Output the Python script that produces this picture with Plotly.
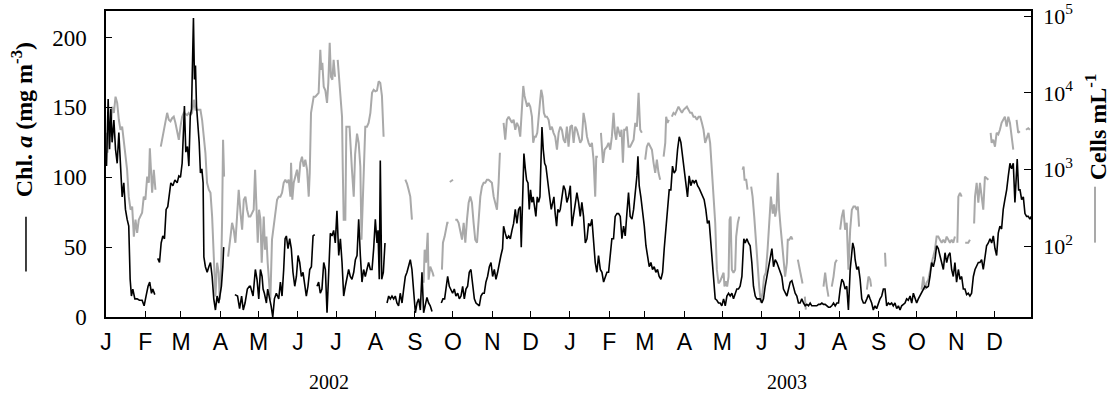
import pandas as pd
import plotly.graph_objects as go

# ---------------- data ----------------
# day offset from 1 Jan 2002, Chl a (mg m-3); None = gap in record
chl_day = [
 0.4,1.7,2.8,3.8,4.8,6.2,7.5,8.8,10.1,11.4,12.7,14.0,15.3,16.6,17.9,19.0,20.0,21.1,22.7,24.5,26.3,28.4,30.0,31.5,33.1,34.4,35.8,36.8,38.4,
 39.5,
 40.7,42.1,43.4,44.7,46.0,47.3,48.6,50.0,51.0,52.6,54.2,56.0,57.3,58.6,59.9,61.0,61.7,62.8,64.1,65.2,66.3,67.3,68.0,68.8,69.6,70.4,71.2,72.2,
 73.3,74.3,75.4,76.4,77.0,78.2,79.6,80.9,82.2,83.5,84.8,86.1,87.4,88.7,90.1,90.8,91.9,92.6,
 96.0,
 101.4,103.5,105.1,106.7,108.0,109.4,111.2,112.8,
 113.6,115.7,117.5,118.8,120.2,121.5,122.8,123.6,124.6,126.2,127.2,128.5,129.9,131.2,132.5,134.0,135.9,137.2,138.5,139.8,140.9,141.9,
 143.2,144.5,145.8,147.1,148.5,149.8,151.1,152.4,153.7,155.0,156.3,157.6,158.9,160.3,161.6,162.9,164.2,
 165.1,
 166.0,167.3,168.6,169.9,171.3,172.6,173.9,175.2,176.5,177.8,179.1,180.4,181.7,183.1,184.4,185.7,187.0,188.3,189.6,190.9,192.2,193.5,
 194.9,196.2,197.5,198.8,200.1,201.4,202.7,204.0,205.3,206.6,208.0,209.3,210.6,211.9,213.2,214.0,215.0,215.8,216.9,218.2,219.5,
 220.3,
 221.1,222.4,223.7,225.0,226.3,227.6,228.9,230.2,231.5,232.9,234.2,
 235.5,236.8,238.1,239.4,240.7,242.1,243.4,244.7,246.0,247.3,248.6,249.9,251.2,252.5,253.8,255.1,256.5,
 260.0,
 263.8,265.1,266.4,267.5,268.8,270.1,271.4,272.7,274.0,275.3,276.7,278.0,279.3,280.6,281.9,283.2,284.5,285.8,287.1,288.4,289.8,291.1,
 292.4,293.7,295.0,296.3,297.6,298.9,300.2,301.6,302.9,304.2,305.5,306.8,308.1,309.4,310.7,312.0,312.8,314.1,315.4,316.8,318.1,319.4,
 320.7,322.0,323.3,324.6,325.9,326.7,327.8,328.8,329.9,330.9,332.0,333.0,334.0,335.1,336.1,337.2,338.2,339.3,340.3,341.4,342.2,343.0,
 344.0,345.1,346.1,347.2,348.2,349.3,350.3,351.4,352.4,353.4,354.5,355.5,356.6,
 357.4,358.7,360.0,361.3,362.6,363.9,365.3,366.6,367.9,369.2,370.5,371.8,373.1,374.4,375.7,377.1,378.4,379.7,381.0,382.3,383.6,384.9,
 386.2,387.5,388.9,390.2,391.5,392.8,394.1,395.4,396.7,398.0,399.3,400.6,402.0,403.3,404.6,405.9,407.2,408.5,409.8,411.1,412.4,413.8,
 415.1,416.4,417.7,418.5,419.5,420.8,422.1,423.5,424.8,426.1,427.4,428.7,430.0,431.3,432.6,433.9,435.2,436.6,437.9,439.2,440.5,441.8,
 443.1,444.4,445.7,447.0,448.3,449.7,451.0,452.3,453.6,454.9,456.2,457.5,458.8,460.1,461.5,462.8,464.1,465.4,466.7,468.0,469.3,470.6,
 471.9,473.2,474.5,475.9,477.2,478.5,
 479.3,480.6,481.9,483.2,484.5,485.9,487.2,488.5,489.8,491.1,492.4,493.7,495.0,496.3,497.6,498.9,500.3,501.1,501.8,502.9,504.2,505.5,
 506.8,508.1,509.4,510.8,512.1,513.4,514.7,516.0,517.3,518.6,519.9,521.2,522.5,523.9,525.2,526.5,527.8,529.1,530.4,531.7,533.0,534.3,
 535.7,537.0,538.3,539.6,540.9,542.2,543.5,544.8,546.1,547.4,548.8,550.1,551.4,552.7,554.0,555.3,556.6,557.9,559.2,560.6,561.9,563.2,
 564.5,565.8,567.1,568.4,569.7,571.0,572.4,573.7,575.0,576.3,577.6,578.9,580.2,581.5,582.8,584.1,585.5,586.8,587.5,588.6,589.4,590.7,
 592.0,593.3,594.6,595.9,597.2,598.6,599.9,
 601.1,602.4,603.7,605.0,606.3,607.7,609.0,610.3,611.6,612.9,614.2,615.5,616.8,618.1,619.4,620.7,622.1,623.4,624.7,626.0,627.3,628.6,
 629.9,631.2,632.6,633.9,635.2,636.5,637.8,639.1,640.4,641.7,643.0,644.3,645.6,647.0,648.3,649.6,650.9,652.2,653.5,654.8,656.1,657.5,
 658.8,660.1,661.4,662.7,664.0,665.3,666.6,667.9,669.2,670.6,671.9,673.2,674.5,675.8,677.1,678.4,679.7,681.0,682.4,683.7,685.0,686.3,
 687.6,688.9,690.2,691.5,692.8,694.2,695.5,696.8,698.1,699.4,700.7,702.0,703.3,704.6,705.9,707.2,708.6,709.9,711.2,712.5,713.8,715.1,
 715.9,716.9,718.0,719.1,720.4,721.7,723.0,724.3,725.6,726.9,728.0,
]
chl_val = [
 108,156,120,149,125,141,120,110,132,108,86,96,77,70,65,27,15,20,13,13,12,12,8,15,22,25,17,20,16,
 None,
 42,39,53,58,56,77,79,89,96,94,98,96,101,100,110,134,151,118,122,108,144,149,177,214,170,180,151,141,
 125,103,106,96,43,36,32,36,39,29,13,5,15,10,20,22,36,50,
 None,
 16,15,6,15,5,10,20,22,
 22,15,34,27,13,34,29,20,17,10,20,15,8,0,13,17,13,25,15,34,56,58,
 49,56,49,32,22,29,44,39,29,32,22,15,22,34,36,58,59,
 None,
 22,25,17,20,39,34,3,39,60,58,62,53,76,44,56,39,15,22,27,34,29,27,
 32,41,44,70,44,25,34,29,34,39,34,34,49,70,53,62,27,112,27,32,53,
 None,
 10,15,13,15,13,15,10,8,17,10,20,
 29,32,36,41,34,15,3,10,13,5,32,3,10,14,10,8,4,
 None,
 10,13,13,20,29,22,20,17,20,15,17,13,15,22,13,20,22,32,34,22,13,10,
 9,8,15,17,17,25,29,36,39,29,34,27,32,39,44,49,65,60,56,58,56,62,
 67,77,67,77,79,50,82,117,106,98,96,77,91,82,86,77,72,86,82,86,120,136,
 120,110,108,98,91,84,77,82,86,74,65,77,75,
 77,86,94,91,82,86,94,65,72,82,89,82,72,82,72,53,56,67,65,70,53,39,
 32,44,34,32,25,29,32,32,46,56,56,72,74,74,72,56,65,58,74,89,72,70,
 77,89,101,115,94,86,77,65,51,44,36,39,34,36,32,34,29,27,32,49,62,79,
 91,91,108,103,105,120,129,125,115,106,96,86,101,94,98,96,98,94,92,89,86,84,
 77,67,69,53,39,20,
 13,12,10,10,8,13,8,15,17,15,17,13,17,20,20,22,29,49,56,53,56,53,
 51,39,22,15,13,13,13,10,13,22,29,36,41,49,36,41,39,36,32,29,20,17,
 15,20,25,26,22,17,15,10,10,13,10,8,9,8,10,8,8,8,8,9,9,10,
 9,9,8,7,7,8,10,8,10,10,20,27,25,20,22,5,34,44,53,49,41,34,
 36,27,13,10,10,13,16,
 13,10,5,8,6,10,13,15,20,20,8,10,9,10,8,10,6,8,5,8,9,10,
 13,12,15,10,17,13,10,13,15,17,20,22,21,22,29,39,36,41,51,49,44,39,
 34,46,39,44,46,34,29,39,25,34,27,29,20,20,16,17,15,17,29,34,36,39,
 39,41,34,44,51,53,56,53,58,49,44,60,65,63,77,84,91,101,110,106,110,82,
 96,113,91,91,84,86,74,72,72,70,72,
]

# day offset from 1 Jan 2002, log10(cells mL-1); None = gap in record
cells_day = [
 0.4,1.2,2.2,3.5,4.8,6.2,7.5,8.8,10.1,11.4,12.7,14.0,15.3,16.6,17.9,19.3,20.6,21.9,23.2,24.5,25.8,27.1,28.4,29.7,31.0,32.4,33.7,34.5,
 35.5,36.3,37.6,38.9,
 41.0,
 43.1,44.2,45.5,46.8,48.1,49.4,50.7,52.0,53.3,54.6,55.9,57.3,58.6,59.9,61.2,62.5,63.8,65.1,66.4,67.7,69.1,70.4,71.7,73.0,74.3,75.6,
 76.9,78.2,79.5,80.9,82.2,83.5,84.8,86.1,87.4,88.7,89.5,90.5,91.3,92.1,92.9,
 94.5,
 96.1,97.9,99.2,100.5,101.8,103.1,104.4,105.8,107.1,108.4,109.7,111.0,112.3,
 113.6,114.9,116.2,117.3,118.3,119.4,120.4,121.5,122.5,123.3,124.1,125.1,126.2,127.2,128.3,129.3,130.6,131.9,133.3,134.6,135.9,137.2,
 138.5,139.8,141.1,142.4,143.7,145.1,145.6,146.6,147.7,149.0,150.3,151.6,152.9,154.2,155.5,156.8,158.2,159.5,160.3,161.3,162.4,163.4,
 164.7,166.0,167.3,168.6,169.4,170.2,171.3,172.6,173.9,174.9,176.0,177.0,178.1,179.1,180.2,
 181.3,
 182.3,183.3,184.4,185.7,186.3,187.0,188.3,189.1,190.1,191.6,193.5,194.9,196.0,197.5,198.8,200.1,201.0,202.7,204.0,205.3,206.6,208.0,
 209.3,210.6,211.9,213.2,214.5,215.8,217.1,218.4,
 227.0,
 235.5,236.8,238.1,239.4,240.7,
 245.0,
 249.9,250.7,251.8,253.1,253.8,255.1,257.0,257.8,
 261.0,
 264.3,265.1,266.4,267.5,268.5,269.5,
 270.0,
 270.5,273.0,
 274.0,
 274.8,276.1,277.4,278.7,280.1,281.4,282.7,284.0,285.3,286.6,287.9,289.2,290.5,291.9,293.2,294.5,295.8,297.1,298.4,299.7,301.0,302.3,
 303.6,305.0,306.3,307.6,308.9,309.9,
 311.3,
 312.8,314.1,315.4,316.8,318.1,319.4,320.7,322.0,323.3,324.6,325.9,327.2,328.3,329.3,330.4,331.4,332.5,333.8,335.1,336.1,337.2,338.2,
 339.3,340.3,341.4,342.4,343.5,344.5,345.6,346.9,348.2,349.5,350.8,352.1,353.4,354.8,356.1,
 357.4,358.7,360.0,361.3,362.6,363.9,365.3,366.6,367.9,369.2,370.5,371.8,373.1,374.4,375.7,377.1,378.4,379.7,381.0,382.3,383.6,384.9,
 385.7,387.0,
 388.2,
 389.4,391.0,392.3,394.1,395.4,396.7,398.0,399.3,400.4,401.4,402.5,403.5,404.6,405.6,406.7,407.7,408.8,409.8,411.1,412.4,413.8,415.1,
 416.4,417.7,419.0,420.3,421.6,
 423.0,
 424.2,425.5,426.8,428.2,429.5,430.8,432.1,433.4,434.7,436.0,
 437.3,
 438.7,440.0,440.7,441.8,442.8,
 444.0,
 445.2,446.5,447.8,449.1,450.4,451.7,453.1,454.4,455.7,457.0,458.3,459.6,460.9,462.2,463.5,464.9,466.2,467.5,468.8,470.1,471.4,472.7,
 474.0,475.3,476.7,478.0,
 479.3,480.6,481.9,483.2,484.5,485.9,486.6,487.6,488.7,489.8,490.6,491.4,492.4,493.7,495.0,495.8,497.1,498.2,
 499.5,
 500.8,501.6,502.4,503.7,504.7,
 506.0,
 507.6,508.7,510.0,511.3,512.6,513.9,515.2,516.5,517.8,519.1,520.5,521.8,523.1,524.6,525.6,526.5,527.5,528.6,529.6,530.7,531.7,533.0,
 534.3,535.7,536.4,537.5,539.1,540.1,
 542.0,
 544.3,545.4,546.9,548.0,
 549.0,
 549.8,550.6,
 557.0,
 564.5,565.8,567.1,568.4,
 569.8,
 571.0,572.4,573.7,575.0,
 576.3,
 577.6,578.9,580.2,581.5,582.8,584.1,585.5,586.8,588.1,589.4,590.7,591.5,592.5,
 595.0,
 598.6,599.9,601.2,602.0,
 607.0,
 612.9,613.4,
 625.0,
 641.7,643.0,644.3,645.6,647.0,648.3,649.6,650.9,652.2,653.5,654.8,656.1,657.5,658.8,660.1,661.4,662.7,664.0,665.3,666.6,667.9,
 668.9,
 669.8,670.6,671.9,673.2,
 674.6,
 676.0,678.4,679.7,
 681.5,
 683.0,683.7,685.0,686.3,687.6,688.9,690.2,691.5,692.8,694.2,
 695.1,
 696.0,696.8,698.1,699.4,700.7,702.0,703.3,704.6,705.9,707.2,708.6,709.9,711.2,712.5,713.8,
 715.1,
 716.4,717.7,719.0,
 721.4,
 723.8,725.6,726.9,
]
cells_log10 = [
 3.48,3.22,3.56,3.43,3.82,3.74,3.95,3.87,3.65,3.52,3.56,3.35,3.22,3.0,2.65,2.48,2.52,2.13,2.35,2.18,2.35,2.39,2.44,2.65,2.61,2.91,2.83,3.28,
 3.0,2.70,3.0,2.74,
 None,
 3.30,3.39,3.48,3.61,3.74,3.65,3.63,3.67,3.69,3.61,3.48,3.39,3.56,3.69,3.74,3.72,3.71,3.74,3.71,3.74,3.91,3.78,3.78,3.78,3.78,3.65,
 3.43,3.22,2.83,2.74,2.70,2.39,1.87,1.35,1.79,1.66,1.31,1.61,2.31,3.39,2.91,
 None,
 1.87,2.13,2.31,2.22,2.05,2.39,2.74,2.44,2.22,2.61,2.65,2.48,2.39,
 2.39,2.44,2.48,3.0,2.48,2.05,2.48,2.35,1.79,2.05,2.39,1.96,2.13,1.79,1.48,1.31,2.09,2.26,2.43,2.61,2.65,2.65,
 2.70,2.83,2.87,2.83,2.87,2.65,3.09,2.61,2.83,2.91,3.0,2.83,3.09,3.17,3.04,3.13,3.0,2.65,2.96,3.74,3.87,3.95,
 3.95,3.97,4.0,4.56,4.30,4.39,4.08,4.03,3.87,4.13,4.65,4.21,4.17,4.43,4.21,
 None,
 4.43,4.21,4.0,3.69,3.0,2.35,2.35,3.56,3.56,3.56,3.0,2.65,3.2,3.47,3.35,3.04,2.09,3.0,3.56,3.56,3.61,3.74,
 4.0,4.04,4.02,4.03,4.15,4.13,3.96,3.43,
 None,
 2.87,2.82,2.74,2.65,2.35,
 None,
 1.53,1.96,1.79,2.18,1.57,1.74,1.66,1.61,
 None,
 1.70,2.05,2.13,2.22,2.31,2.31,
 None,
 2.84,2.87,
 None,
 2.35,2.35,2.31,2.22,2.09,2.31,2.05,2.35,2.57,2.65,2.57,2.31,2.09,2.05,2.39,2.65,2.78,2.83,2.83,2.87,2.87,2.85,
 2.83,2.65,2.57,2.48,2.83,3.22,
 None,
 3.61,3.39,3.65,3.69,3.65,3.61,3.65,3.52,3.61,3.56,3.43,3.74,4.09,3.96,3.87,3.82,3.87,3.82,3.69,3.35,3.43,3.43,
 3.48,3.74,3.87,4.04,3.95,3.74,3.69,3.69,3.65,3.52,3.56,3.48,3.43,3.26,3.48,
 3.56,3.52,3.39,3.35,3.56,3.30,3.56,3.58,3.35,3.56,3.52,3.43,3.35,3.39,3.74,3.61,3.43,3.35,3.30,3.35,3.13,2.65,
 3.17,3.17,
 None,
 3.48,3.09,3.26,3.30,3.35,3.26,3.43,3.74,3.48,3.39,3.56,3.48,3.43,3.52,3.09,3.52,3.52,3.56,3.30,3.30,3.35,3.39,
 3.61,3.56,4.0,3.52,3.48,
 None,
 3.13,3.30,3.35,3.30,3.26,3.09,2.96,3.13,2.96,2.87,
 None,
 3.17,3.35,3.69,3.61,3.65,
 None,
 3.69,3.74,3.72,3.78,3.82,3.78,3.74,3.78,3.80,3.82,3.78,3.74,3.74,3.69,3.69,3.65,3.69,3.69,3.61,3.52,3.35,3.43,
 3.48,3.35,3.0,2.70,
 2.31,1.70,1.52,1.55,1.61,1.66,1.48,1.55,1.48,1.61,2.35,2.39,1.70,1.66,1.70,2.13,2.31,2.39,
 None,
 3.0,3.04,2.87,2.87,2.74,
 None,
 2.78,2.65,2.39,2.05,1.79,1.48,1.27,1.40,1.61,1.66,1.96,2.39,2.65,2.43,2.55,2.39,2.48,2.96,2.48,2.26,2.05,1.79,
 1.61,1.79,2.09,2.09,2.13,2.09,
 None,
 1.83,1.74,1.61,1.52,
 None,
 1.35,1.18,
 None,
 1.48,1.66,1.48,1.35,
 None,
 1.48,1.61,1.79,1.83,
 None,
 2.22,2.39,2.48,2.22,2.31,1.70,2.22,2.48,2.52,2.52,2.48,2.52,2.26,
 None,
 1.44,1.61,1.57,1.48,
 None,
 1.92,1.74,
 None,
 1.44,1.61,1.44,1.53,1.57,1.70,1.79,1.87,1.96,2.13,2.13,2.09,2.05,2.09,2.05,2.13,2.09,2.05,2.09,2.05,2.13,
 None,
 2.05,2.65,2.70,2.65,
 None,
 2.05,2.05,2.09,
 None,
 2.30,2.65,2.83,2.57,2.83,2.65,2.48,2.91,2.89,2.87,
 None,
 3.48,3.35,3.39,3.30,3.48,3.46,3.52,3.61,3.65,3.69,3.56,3.69,3.61,3.43,3.26,
 None,
 3.65,3.48,3.50,
 None,
 3.52,3.54,3.52,
]

month_letters = ["J","F","M","A","M","J","J","A","S","O","N","D"] * 2
year_labels = ["2002", "2003"]
chl_ticks = [0, 50, 100, 150, 200]
cells_ticks = [1e2, 1e3, 1e4, 1e5]
cells_ticktext = ["10<sup>2</sup>", "10<sup>3</sup>", "10<sup>4</sup>", "10<sup>5</sup>"]

# ---------------- build ----------------
start = pd.Timestamp("2002-01-01")
chl_x = [start + pd.Timedelta(days=d) for d in chl_day]
cells_x = [start + pd.Timedelta(days=d) for d in cells_day]
cells_y = [None if v is None else 10 ** v for v in cells_log10]
month_ticks = pd.date_range("2002-01-01", "2003-12-01", freq="MS")

GREY = "#a9a9a9"
fig = go.Figure()
fig.add_trace(go.Scatter(x=cells_x, y=cells_y, mode="lines", yaxis="y",
                         line=dict(color=GREY, width=2), connectgaps=False,
                         name="Cells mL-1", showlegend=False))
fig.add_trace(go.Scatter(x=chl_x, y=chl_val, mode="lines", yaxis="y2",
                         line=dict(color="black", width=1.6), connectgaps=False,
                         name="Chl a", showlegend=False))

axis_common = dict(showline=True, linecolor="black", linewidth=1.5, ticks="inside",
                   tickcolor="black", tickwidth=1.3, showgrid=False, zeroline=False,
                   automargin=False)

fig.update_layout(
    width=1111, height=405,
    margin=dict(l=106, r=80, t=11, b=88, autoexpand=False),
    paper_bgcolor="white", plot_bgcolor="white",
    font=dict(family="Liberation Serif", color="black"),
    xaxis=dict(type="date", range=["2002-01-01", "2003-12-29 18:00"],
               tickvals=list(month_ticks), ticktext=month_letters,
               ticklen=6, mirror=True, ticklabelstandoff=4,
               tickfont=dict(family="Liberation Sans", size=23, color="black"),
               **axis_common),
    yaxis=dict(type="log", range=[1.084, 5.065], side="right", anchor="x",
               tickvals=cells_ticks, ticktext=cells_ticktext, ticklen=7,
               ticklabelstandoff=6,
               tickfont=dict(family="Liberation Serif", size=22, color="black"),
               **axis_common),
    yaxis2=dict(overlaying="y", side="left", anchor="x", range=[0, 219],
                tickvals=chl_ticks, ticklen=6, ticklabelstandoff=13,
                tickfont=dict(family="Liberation Serif", size=23, color="black"),
                **axis_common),
)

annos = [
    dict(text="<b>Chl. <i>a</i> (mg m<sup>-3</sup>)</b>", x=-0.0905, y=0.644, textangle=-90,
         font=dict(size=24)),
    dict(text="<b>Cells mL<sup>-1</sup></b>", x=1.0703, y=0.62, textangle=-90,
         font=dict(size=24)),
    dict(text=year_labels[0], x=0.241, y=-0.214, font=dict(size=20)),
    dict(text=year_labels[1], x=0.736, y=-0.214, font=dict(size=20)),
]
for a in annos:
    fig.add_annotation(xref="paper", yref="paper", showarrow=False,
                       xanchor="center", yanchor="middle", **a)

fig.add_shape(type="line", xref="paper", yref="paper", x0=-0.0865, x1=-0.0865,
              y0=0.328, y1=0.1485, line=dict(color="black", width=1.5))
fig.add_shape(type="line", xref="paper", yref="paper", x0=1.0692, x1=1.0692,
              y0=0.4258, y1=0.243, line=dict(color=GREY, width=2))

# remove the browser's default 8 px body margin so the 1111x405 figure fills the window
fig.write_html("out.html", config={"displayModeBar": False},
               post_script="document.body.style.margin='0';document.body.style.overflow='hidden';")
